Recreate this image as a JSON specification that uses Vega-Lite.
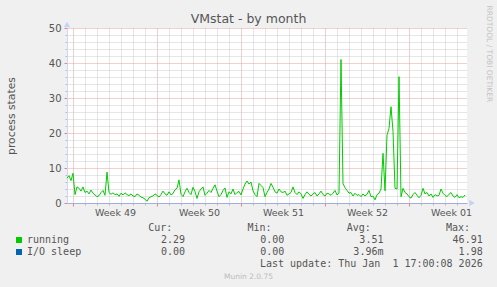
{
"$schema":"https://vega.github.io/schema/vega-lite/v6.json",
"width":400,"height":175,
"autosize":{"type":"none"},
"padding":{"left":67,"top":28,"right":30,"bottom":84},
"background":"#F0F0F0",
"title":{"text":"VMstat - by month","font":"DejaVu Sans","fontSize":12.5,"fontWeight":"normal","color":"#555555","anchor":"middle","frame":"group","dx":-18.5,"offset":0,"dy":30.7,"baseline":"alphabetic"},
"config":{"view":{"stroke":null,"fill":"#FFFFFF"},"axis":{"labelFont":"DejaVu Sans","titleFont":"DejaVu Sans","labelColor":"#555555","titleColor":"#555555","titleFontWeight":"normal"}},
"layer":[
{
"data":{"values":[
{"t":"2025-11-29T12:00:00Z","running":7.1,"I/O sleep":0},
{"t":"2025-11-29T16:00:00Z","running":7.8,"I/O sleep":0},
{"t":"2025-11-29T20:00:00Z","running":6.4,"I/O sleep":0},
{"t":"2025-11-30T00:00:00Z","running":8.5,"I/O sleep":0},
{"t":"2025-11-30T04:00:00Z","running":2.4,"I/O sleep":0},
{"t":"2025-11-30T08:00:00Z","running":4.6,"I/O sleep":0},
{"t":"2025-11-30T12:00:00Z","running":4.2,"I/O sleep":0},
{"t":"2025-11-30T16:00:00Z","running":3.4,"I/O sleep":0},
{"t":"2025-11-30T20:00:00Z","running":4.6,"I/O sleep":0},
{"t":"2025-12-01T00:00:00Z","running":3.0,"I/O sleep":0},
{"t":"2025-12-01T04:00:00Z","running":3.4,"I/O sleep":0},
{"t":"2025-12-01T08:00:00Z","running":2.6,"I/O sleep":0},
{"t":"2025-12-01T12:00:00Z","running":3.7,"I/O sleep":0},
{"t":"2025-12-01T16:00:00Z","running":2.8,"I/O sleep":0},
{"t":"2025-12-01T20:00:00Z","running":2.3,"I/O sleep":0},
{"t":"2025-12-02T00:00:00Z","running":1.8,"I/O sleep":0},
{"t":"2025-12-02T04:00:00Z","running":2.1,"I/O sleep":0},
{"t":"2025-12-02T08:00:00Z","running":3.0,"I/O sleep":0},
{"t":"2025-12-02T12:00:00Z","running":3.6,"I/O sleep":0},
{"t":"2025-12-02T16:00:00Z","running":2.2,"I/O sleep":0},
{"t":"2025-12-02T20:00:00Z","running":8.8,"I/O sleep":0},
{"t":"2025-12-03T00:00:00Z","running":3.0,"I/O sleep":0},
{"t":"2025-12-03T04:00:00Z","running":2.5,"I/O sleep":0},
{"t":"2025-12-03T08:00:00Z","running":2.9,"I/O sleep":0},
{"t":"2025-12-03T12:00:00Z","running":2.4,"I/O sleep":0},
{"t":"2025-12-03T16:00:00Z","running":2.6,"I/O sleep":0},
{"t":"2025-12-03T20:00:00Z","running":1.9,"I/O sleep":0},
{"t":"2025-12-04T00:00:00Z","running":2.8,"I/O sleep":0},
{"t":"2025-12-04T04:00:00Z","running":2.3,"I/O sleep":0},
{"t":"2025-12-04T08:00:00Z","running":2.9,"I/O sleep":0},
{"t":"2025-12-04T12:00:00Z","running":2.4,"I/O sleep":0},
{"t":"2025-12-04T16:00:00Z","running":2.1,"I/O sleep":0},
{"t":"2025-12-04T20:00:00Z","running":2.6,"I/O sleep":0},
{"t":"2025-12-05T00:00:00Z","running":2.0,"I/O sleep":0},
{"t":"2025-12-05T04:00:00Z","running":1.8,"I/O sleep":0},
{"t":"2025-12-05T08:00:00Z","running":2.6,"I/O sleep":0},
{"t":"2025-12-05T12:00:00Z","running":2.2,"I/O sleep":0},
{"t":"2025-12-05T16:00:00Z","running":1.7,"I/O sleep":0},
{"t":"2025-12-05T20:00:00Z","running":1.5,"I/O sleep":0},
{"t":"2025-12-06T00:00:00Z","running":1.1,"I/O sleep":0},
{"t":"2025-12-06T04:00:00Z","running":0.5,"I/O sleep":0},
{"t":"2025-12-06T08:00:00Z","running":1.5,"I/O sleep":0},
{"t":"2025-12-06T12:00:00Z","running":1.8,"I/O sleep":0},
{"t":"2025-12-06T16:00:00Z","running":2.0,"I/O sleep":0},
{"t":"2025-12-06T20:00:00Z","running":2.6,"I/O sleep":0},
{"t":"2025-12-07T00:00:00Z","running":2.2,"I/O sleep":0},
{"t":"2025-12-07T04:00:00Z","running":1.7,"I/O sleep":0},
{"t":"2025-12-07T08:00:00Z","running":2.4,"I/O sleep":0},
{"t":"2025-12-07T12:00:00Z","running":3.4,"I/O sleep":0},
{"t":"2025-12-07T16:00:00Z","running":2.6,"I/O sleep":0},
{"t":"2025-12-07T20:00:00Z","running":2.2,"I/O sleep":0},
{"t":"2025-12-08T00:00:00Z","running":3.2,"I/O sleep":0},
{"t":"2025-12-08T04:00:00Z","running":2.3,"I/O sleep":0},
{"t":"2025-12-08T08:00:00Z","running":2.7,"I/O sleep":0},
{"t":"2025-12-08T12:00:00Z","running":3.8,"I/O sleep":0},
{"t":"2025-12-08T16:00:00Z","running":4.2,"I/O sleep":0},
{"t":"2025-12-08T20:00:00Z","running":6.6,"I/O sleep":0},
{"t":"2025-12-09T00:00:00Z","running":2.5,"I/O sleep":0},
{"t":"2025-12-09T04:00:00Z","running":1.8,"I/O sleep":0},
{"t":"2025-12-09T08:00:00Z","running":3.2,"I/O sleep":0},
{"t":"2025-12-09T12:00:00Z","running":4.2,"I/O sleep":0},
{"t":"2025-12-09T16:00:00Z","running":3.0,"I/O sleep":0},
{"t":"2025-12-09T20:00:00Z","running":2.4,"I/O sleep":0},
{"t":"2025-12-10T00:00:00Z","running":4.5,"I/O sleep":0},
{"t":"2025-12-10T04:00:00Z","running":3.3,"I/O sleep":0},
{"t":"2025-12-10T08:00:00Z","running":1.3,"I/O sleep":0},
{"t":"2025-12-10T12:00:00Z","running":3.2,"I/O sleep":0},
{"t":"2025-12-10T16:00:00Z","running":4.0,"I/O sleep":0},
{"t":"2025-12-10T20:00:00Z","running":4.6,"I/O sleep":0},
{"t":"2025-12-11T00:00:00Z","running":2.2,"I/O sleep":0},
{"t":"2025-12-11T04:00:00Z","running":2.8,"I/O sleep":0},
{"t":"2025-12-11T08:00:00Z","running":3.6,"I/O sleep":0},
{"t":"2025-12-11T12:00:00Z","running":3.0,"I/O sleep":0},
{"t":"2025-12-11T16:00:00Z","running":4.2,"I/O sleep":0},
{"t":"2025-12-11T20:00:00Z","running":5.2,"I/O sleep":0},
{"t":"2025-12-12T00:00:00Z","running":3.4,"I/O sleep":0},
{"t":"2025-12-12T04:00:00Z","running":1.8,"I/O sleep":0},
{"t":"2025-12-12T08:00:00Z","running":2.4,"I/O sleep":0},
{"t":"2025-12-12T12:00:00Z","running":3.6,"I/O sleep":0},
{"t":"2025-12-12T16:00:00Z","running":4.3,"I/O sleep":0},
{"t":"2025-12-12T20:00:00Z","running":1.6,"I/O sleep":0},
{"t":"2025-12-13T00:00:00Z","running":3.2,"I/O sleep":0},
{"t":"2025-12-13T04:00:00Z","running":2.6,"I/O sleep":0},
{"t":"2025-12-13T08:00:00Z","running":4.0,"I/O sleep":0},
{"t":"2025-12-13T12:00:00Z","running":2.4,"I/O sleep":0},
{"t":"2025-12-13T16:00:00Z","running":3.0,"I/O sleep":0},
{"t":"2025-12-13T20:00:00Z","running":3.3,"I/O sleep":0},
{"t":"2025-12-14T00:00:00Z","running":2.3,"I/O sleep":0},
{"t":"2025-12-14T04:00:00Z","running":4.0,"I/O sleep":0},
{"t":"2025-12-14T08:00:00Z","running":5.4,"I/O sleep":0},
{"t":"2025-12-14T12:00:00Z","running":6.3,"I/O sleep":0},
{"t":"2025-12-14T16:00:00Z","running":5.4,"I/O sleep":0},
{"t":"2025-12-14T20:00:00Z","running":6.0,"I/O sleep":0},
{"t":"2025-12-15T00:00:00Z","running":3.5,"I/O sleep":0},
{"t":"2025-12-15T04:00:00Z","running":2.4,"I/O sleep":0},
{"t":"2025-12-15T08:00:00Z","running":1.8,"I/O sleep":0},
{"t":"2025-12-15T12:00:00Z","running":5.6,"I/O sleep":0},
{"t":"2025-12-15T16:00:00Z","running":5.0,"I/O sleep":0},
{"t":"2025-12-15T20:00:00Z","running":4.4,"I/O sleep":0},
{"t":"2025-12-16T00:00:00Z","running":1.8,"I/O sleep":0},
{"t":"2025-12-16T04:00:00Z","running":3.0,"I/O sleep":0},
{"t":"2025-12-16T08:00:00Z","running":4.0,"I/O sleep":0},
{"t":"2025-12-16T12:00:00Z","running":5.6,"I/O sleep":0},
{"t":"2025-12-16T16:00:00Z","running":4.5,"I/O sleep":0},
{"t":"2025-12-16T20:00:00Z","running":3.2,"I/O sleep":0},
{"t":"2025-12-17T00:00:00Z","running":2.8,"I/O sleep":0},
{"t":"2025-12-17T04:00:00Z","running":4.0,"I/O sleep":0},
{"t":"2025-12-17T08:00:00Z","running":3.2,"I/O sleep":0},
{"t":"2025-12-17T12:00:00Z","running":3.0,"I/O sleep":0},
{"t":"2025-12-17T16:00:00Z","running":3.4,"I/O sleep":0},
{"t":"2025-12-17T20:00:00Z","running":2.2,"I/O sleep":0},
{"t":"2025-12-18T00:00:00Z","running":2.6,"I/O sleep":0},
{"t":"2025-12-18T04:00:00Z","running":3.0,"I/O sleep":0},
{"t":"2025-12-18T08:00:00Z","running":4.6,"I/O sleep":0},
{"t":"2025-12-18T12:00:00Z","running":3.0,"I/O sleep":0},
{"t":"2025-12-18T16:00:00Z","running":2.4,"I/O sleep":0},
{"t":"2025-12-18T20:00:00Z","running":3.2,"I/O sleep":0},
{"t":"2025-12-19T00:00:00Z","running":2.6,"I/O sleep":0},
{"t":"2025-12-19T04:00:00Z","running":1.3,"I/O sleep":0},
{"t":"2025-12-19T08:00:00Z","running":2.4,"I/O sleep":0},
{"t":"2025-12-19T12:00:00Z","running":3.2,"I/O sleep":0},
{"t":"2025-12-19T16:00:00Z","running":2.5,"I/O sleep":0},
{"t":"2025-12-19T20:00:00Z","running":2.0,"I/O sleep":0},
{"t":"2025-12-20T00:00:00Z","running":2.6,"I/O sleep":0},
{"t":"2025-12-20T04:00:00Z","running":3.0,"I/O sleep":0},
{"t":"2025-12-20T08:00:00Z","running":2.0,"I/O sleep":0},
{"t":"2025-12-20T12:00:00Z","running":2.6,"I/O sleep":0},
{"t":"2025-12-20T16:00:00Z","running":3.4,"I/O sleep":0},
{"t":"2025-12-20T20:00:00Z","running":2.4,"I/O sleep":0},
{"t":"2025-12-21T00:00:00Z","running":2.0,"I/O sleep":0},
{"t":"2025-12-21T04:00:00Z","running":2.8,"I/O sleep":0},
{"t":"2025-12-21T08:00:00Z","running":2.6,"I/O sleep":0},
{"t":"2025-12-21T12:00:00Z","running":2.2,"I/O sleep":0},
{"t":"2025-12-21T16:00:00Z","running":2.8,"I/O sleep":0},
{"t":"2025-12-21T20:00:00Z","running":3.6,"I/O sleep":0},
{"t":"2025-12-22T00:00:00Z","running":2.3,"I/O sleep":0},
{"t":"2025-12-22T04:00:00Z","running":2.8,"I/O sleep":0},
{"t":"2025-12-22T08:00:00Z","running":41.0,"I/O sleep":0},
{"t":"2025-12-22T12:00:00Z","running":5.5,"I/O sleep":0},
{"t":"2025-12-22T16:00:00Z","running":4.4,"I/O sleep":0},
{"t":"2025-12-22T20:00:00Z","running":3.6,"I/O sleep":0},
{"t":"2025-12-23T00:00:00Z","running":2.8,"I/O sleep":0},
{"t":"2025-12-23T04:00:00Z","running":3.0,"I/O sleep":0},
{"t":"2025-12-23T08:00:00Z","running":2.0,"I/O sleep":0},
{"t":"2025-12-23T12:00:00Z","running":2.8,"I/O sleep":0},
{"t":"2025-12-23T16:00:00Z","running":2.2,"I/O sleep":0},
{"t":"2025-12-23T20:00:00Z","running":2.4,"I/O sleep":0},
{"t":"2025-12-24T00:00:00Z","running":1.8,"I/O sleep":0},
{"t":"2025-12-24T04:00:00Z","running":2.6,"I/O sleep":0},
{"t":"2025-12-24T08:00:00Z","running":2.0,"I/O sleep":0},
{"t":"2025-12-24T12:00:00Z","running":2.5,"I/O sleep":0},
{"t":"2025-12-24T16:00:00Z","running":3.6,"I/O sleep":0},
{"t":"2025-12-24T20:00:00Z","running":1.8,"I/O sleep":0},
{"t":"2025-12-25T00:00:00Z","running":2.0,"I/O sleep":0},
{"t":"2025-12-25T04:00:00Z","running":0.9,"I/O sleep":0},
{"t":"2025-12-25T08:00:00Z","running":2.4,"I/O sleep":0},
{"t":"2025-12-25T12:00:00Z","running":2.8,"I/O sleep":0},
{"t":"2025-12-25T16:00:00Z","running":4.0,"I/O sleep":0},
{"t":"2025-12-25T20:00:00Z","running":14.2,"I/O sleep":0},
{"t":"2025-12-26T00:00:00Z","running":3.5,"I/O sleep":0},
{"t":"2025-12-26T04:00:00Z","running":19.4,"I/O sleep":0},
{"t":"2025-12-26T08:00:00Z","running":21.3,"I/O sleep":0},
{"t":"2025-12-26T12:00:00Z","running":27.5,"I/O sleep":0},
{"t":"2025-12-26T16:00:00Z","running":20.5,"I/O sleep":0},
{"t":"2025-12-26T20:00:00Z","running":4.2,"I/O sleep":0},
{"t":"2025-12-27T00:00:00Z","running":4.0,"I/O sleep":0},
{"t":"2025-12-27T04:00:00Z","running":36.1,"I/O sleep":0},
{"t":"2025-12-27T08:00:00Z","running":1.8,"I/O sleep":0},
{"t":"2025-12-27T12:00:00Z","running":4.2,"I/O sleep":0},
{"t":"2025-12-27T16:00:00Z","running":3.0,"I/O sleep":0},
{"t":"2025-12-27T20:00:00Z","running":2.6,"I/O sleep":0},
{"t":"2025-12-28T00:00:00Z","running":1.8,"I/O sleep":0},
{"t":"2025-12-28T04:00:00Z","running":1.4,"I/O sleep":0},
{"t":"2025-12-28T08:00:00Z","running":2.4,"I/O sleep":0},
{"t":"2025-12-28T12:00:00Z","running":3.0,"I/O sleep":0},
{"t":"2025-12-28T16:00:00Z","running":2.2,"I/O sleep":0},
{"t":"2025-12-28T20:00:00Z","running":1.5,"I/O sleep":0},
{"t":"2025-12-29T00:00:00Z","running":2.2,"I/O sleep":0},
{"t":"2025-12-29T04:00:00Z","running":4.2,"I/O sleep":0},
{"t":"2025-12-29T08:00:00Z","running":2.6,"I/O sleep":0},
{"t":"2025-12-29T12:00:00Z","running":3.0,"I/O sleep":0},
{"t":"2025-12-29T16:00:00Z","running":2.0,"I/O sleep":0},
{"t":"2025-12-29T20:00:00Z","running":2.6,"I/O sleep":0},
{"t":"2025-12-30T00:00:00Z","running":1.6,"I/O sleep":0},
{"t":"2025-12-30T04:00:00Z","running":2.4,"I/O sleep":0},
{"t":"2025-12-30T08:00:00Z","running":2.0,"I/O sleep":0},
{"t":"2025-12-30T12:00:00Z","running":2.2,"I/O sleep":0},
{"t":"2025-12-30T16:00:00Z","running":4.0,"I/O sleep":0},
{"t":"2025-12-30T20:00:00Z","running":2.8,"I/O sleep":0},
{"t":"2025-12-31T00:00:00Z","running":2.2,"I/O sleep":0},
{"t":"2025-12-31T04:00:00Z","running":1.8,"I/O sleep":0},
{"t":"2025-12-31T08:00:00Z","running":2.5,"I/O sleep":0},
{"t":"2025-12-31T12:00:00Z","running":3.0,"I/O sleep":0},
{"t":"2025-12-31T16:00:00Z","running":2.0,"I/O sleep":0},
{"t":"2025-12-31T20:00:00Z","running":1.6,"I/O sleep":0},
{"t":"2026-01-01T00:00:00Z","running":2.4,"I/O sleep":0},
{"t":"2026-01-01T04:00:00Z","running":1.5,"I/O sleep":0},
{"t":"2026-01-01T08:00:00Z","running":1.8,"I/O sleep":0},
{"t":"2026-01-01T12:00:00Z","running":1.6,"I/O sleep":0},
{"t":"2026-01-01T16:00:00Z","running":2.3,"I/O sleep":0}
]},
"transform":[{"fold":["running","I/O sleep"],"as":["key","v"]}],
"resolve":{"axis":{"x":"independent","y":"independent"}},
"layer":[
{"mark":{"type":"line","strokeWidth":1},
 "transform":[{"filter":"datum.key === 'running' || datum.v > 0"}],
 "encoding":{
  "x":{"field":"t","type":"temporal",
       "scale":{"type":"utc","domain":[{"year":2025,"month":11,"date":29,"hours":12,"utc":true},{"year":2026,"month":1,"date":1,"hours":20,"utc":true}]},
       "axis":{"orient":"bottom","title":null,"labels":false,"domain":false,"grid":true,"gridColor":"#CCCCCC","gridDash":[1,1],"ticks":true,"tickColor":"#BBBBBB","tickSize":2,
        "values":[
         {"year":2025,"month":12,"date":1,"utc":true},{"year":2025,"month":12,"date":2,"utc":true},{"year":2025,"month":12,"date":3,"utc":true},{"year":2025,"month":12,"date":4,"utc":true},{"year":2025,"month":12,"date":5,"utc":true},{"year":2025,"month":12,"date":6,"utc":true},
         {"year":2025,"month":12,"date":8,"utc":true},{"year":2025,"month":12,"date":9,"utc":true},{"year":2025,"month":12,"date":10,"utc":true},{"year":2025,"month":12,"date":11,"utc":true},{"year":2025,"month":12,"date":12,"utc":true},{"year":2025,"month":12,"date":13,"utc":true},
         {"year":2025,"month":12,"date":15,"utc":true},{"year":2025,"month":12,"date":16,"utc":true},{"year":2025,"month":12,"date":17,"utc":true},{"year":2025,"month":12,"date":18,"utc":true},{"year":2025,"month":12,"date":19,"utc":true},{"year":2025,"month":12,"date":20,"utc":true},
         {"year":2025,"month":12,"date":22,"utc":true},{"year":2025,"month":12,"date":23,"utc":true},{"year":2025,"month":12,"date":24,"utc":true},{"year":2025,"month":12,"date":25,"utc":true},{"year":2025,"month":12,"date":26,"utc":true},{"year":2025,"month":12,"date":27,"utc":true},
         {"year":2025,"month":12,"date":29,"utc":true},{"year":2025,"month":12,"date":30,"utc":true},{"year":2025,"month":12,"date":31,"utc":true},{"year":2026,"month":1,"date":1,"utc":true}]}},
  "y":{"field":"v","type":"quantitative","scale":{"domain":[0,50],"nice":false},
       "axis":{"orient":"left","title":null,"labels":false,"domain":false,"grid":true,"gridColor":"#CCCCCC","gridDash":[1,1],"ticks":true,"tickColor":"#BBBBBB","tickSize":2,
        "values":[2,4,6,8,12,14,16,18,22,24,26,28,32,34,36,38,42,44,46,48]}},
  "color":{"field":"key","type":"nominal","scale":{"domain":["running","I/O sleep"],"range":["#00CC00","#0066B3"]},
       "legend":{"orient":"none","legendX":-53,"legendY":207,"title":null,"direction":"vertical","symbolType":"square","symbolSize":4,"symbolStrokeWidth":4,"labelFont":"DejaVu Sans Mono","labelFontSize":10,"labelColor":"#555555","labelOffset":3,"rowPadding":2,"clipHeight":10,"padding":0}}
 }},
{"data":{"values":[{}]},
 "mark":{"type":"point","shape":"triangle-up","filled":true,"size":40,"color":"#C8D0F4","opacity":1},
 "encoding":{
  "x":{"datum":{"year":2025,"month":11,"date":29,"hours":12,"utc":true},"type":"temporal",
       "axis":{"orient":"bottom","title":null,"labels":false,"domain":false,"grid":true,"gridColor":"#E6A0A0","gridDash":[1,1],"ticks":true,"tickColor":"#E08888","tickSize":3,
        "values":[{"year":2025,"month":11,"date":30,"utc":true},{"year":2025,"month":12,"date":7,"utc":true},{"year":2025,"month":12,"date":14,"utc":true},{"year":2025,"month":12,"date":21,"utc":true},{"year":2025,"month":12,"date":28,"utc":true}]}},
  "y":{"datum":51,"type":"quantitative",
       "axis":{"orient":"left","title":"process states","titleFontSize":10.8,"titleX":-56,"titleY":87.5,"titleAngle":-90,"titleBaseline":"middle","titleAlign":"center",
        "labels":true,"labelFontSize":10,"labelPadding":3,"domain":true,"domainColor":"#CFD6F8","grid":true,
        "gridColor":{"condition":{"test":"datum.value === 0","value":"transparent"},"value":"#E6A0A0"},"gridDash":[1,1],"ticks":true,"tickColor":"#E08888","tickSize":3,
        "values":[0,10,20,30,40,50]}}
 }},
{"data":{"values":[{}]},
 "mark":{"type":"point","shape":"triangle-right","filled":true,"size":40,"color":"#C8D0F4","opacity":1},
 "encoding":{
  "x":{"datum":{"year":2026,"month":1,"date":2,"hours":6,"utc":true},"type":"temporal",
       "axis":{"orient":"bottom","zindex":1,"labels":true,"labelExpr":"'Week ' + utcFormat(datum.value, '%V')","labelFontSize":9.5,"labelPadding":4,"labelOverlap":false,"labelFlush":false,
        "domain":true,"domainColor":"#A3ACE0","grid":false,"ticks":false,"tickSize":0,
        "values":[{"year":2025,"month":12,"date":3,"hours":12,"utc":true},{"year":2025,"month":12,"date":10,"hours":12,"utc":true},{"year":2025,"month":12,"date":17,"hours":12,"utc":true},{"year":2025,"month":12,"date":24,"hours":12,"utc":true},{"year":2025,"month":12,"date":31,"hours":12,"utc":true}],
        "title":"Munin 2.0.75","titleFontSize":7.5,"titleColor":"#BBBBBB","titleX":181,"titleY":73,"titleBaseline":"middle","titleAlign":"center"}},
  "y":{"datum":0,"type":"quantitative",
       "axis":{"orient":"right","labels":false,"ticks":false,"domain":false,"grid":false,
        "title":"RRDTOOL / TOBI OETIKER","titleFontSize":7.5,"titleColor":"#C4C4C4","titleAngle":90,"titleX":21,"titleY":-23,"titleAlign":"left","titleBaseline":"middle"}}
 }}
]
},
{
"layer":[
{"data":{"values":[
 {"series":"running","stat":"Cur","value":"2.29\u00a0"},
 {"series":"running","stat":"Min","value":"0.00\u00a0"},
 {"series":"running","stat":"Avg","value":"3.51\u00a0"},
 {"series":"running","stat":"Max","value":"46.91\u00a0"},
 {"series":"I/O sleep","stat":"Cur","value":"0.00\u00a0"},
 {"series":"I/O sleep","stat":"Min","value":"0.00\u00a0"},
 {"series":"I/O sleep","stat":"Avg","value":"3.96m"},
 {"series":"I/O sleep","stat":"Max","value":"1.98\u00a0"}
 ]},
 "mark":{"type":"text","align":"right","baseline":"middle","font":"DejaVu Sans Mono","fontSize":10,"color":"#555555"},
 "encoding":{
  "x":{"field":"stat","type":"nominal","scale":{"type":"point","domain":["Cur","Min","Avg","Max"],"range":[118,415.7],"padding":0},"axis":null},
  "y":{"field":"series","type":"nominal","scale":{"type":"point","domain":["head","running","I/O sleep","update"],"range":[200,236],"padding":0},"axis":null},
  "text":{"field":"value"}}},
{"data":{"values":[{"stat":"Cur","head":"Cur:"},{"stat":"Min","head":"Min:"},{"stat":"Avg","head":"Avg:"},{"stat":"Max","head":"Max:"}]},
 "mark":{"type":"text","align":"right","baseline":"middle","font":"DejaVu Sans Mono","fontSize":10,"color":"#555555","dx":-12.7},
 "encoding":{
  "x":{"field":"stat","type":"nominal","axis":null},
  "y":{"datum":"head","type":"nominal","axis":null},
  "text":{"field":"head"}}},
{"data":{"values":[{"note":"Last update: Thu Jan\u00a0 1 17:00:08 2026"}]},
 "mark":{"type":"text","align":"right","baseline":"middle","font":"DejaVu Sans Mono","fontSize":10,"color":"#555555"},
 "encoding":{
  "x":{"datum":"Max","type":"nominal","axis":null},
  "y":{"datum":"update","type":"nominal","axis":null},
  "text":{"field":"note"}}}
]
}
],
"resolve":{"scale":{"x":"independent","y":"independent"}}
}
